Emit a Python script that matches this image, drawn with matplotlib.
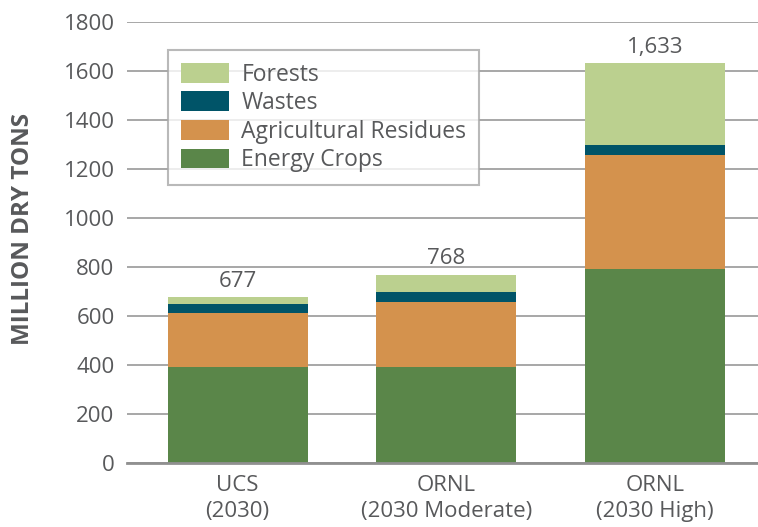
import numpy as np
import matplotlib.pyplot as plt

categories = ["UCS\n(2030)", "ORNL\n(2030 Moderate)", "ORNL\n(2030 High)"]
energy_crops = [390, 390, 793]
agri_residues = [220, 268, 465]
wastes = [37, 41, 41]
forests = [30, 69, 334]
totals = ["677", "768", "1,633"]

plt.rcParams['font.family'] = ['Open Sans', 'DejaVu Sans']
grey = "#58595b"

fig = plt.figure(figsize=(7.58, 5.27), dpi=100)
ax = fig.add_axes([127/758, (527-462.7)/527, 1-127/758, (462.7-22)/527])

x = np.arange(len(categories))
w = 0.671
b1 = ax.bar(x, energy_crops, w, color="#5a8649", label="Energy Crops", zorder=3)
bottom = np.array(energy_crops)
b2 = ax.bar(x, agri_residues, w, bottom=bottom, color="#d4924d", label="Agricultural Residues", zorder=3)
bottom = bottom + np.array(agri_residues)
b3 = ax.bar(x, wastes, w, bottom=bottom, color="#005468", label="Wastes", zorder=3)
bottom = bottom + np.array(wastes)
b4 = ax.bar(x, forests, w, bottom=bottom, color="#bbd08f", label="Forests", zorder=3)
bottom = bottom + np.array(forests)

for xi, top, t in zip(x, bottom, totals):
    ax.text(xi, top + 22, t, ha="center", va="bottom", fontsize=16, color=grey)

ax.set_ylim(0, 1800)
ax.set_xlim(-0.530, 2.4935)
ax.set_yticks(np.arange(0, 1801, 200))
ax.yaxis.grid(True, color="#a0a0a0", linewidth=1.3, zorder=0)
ax.set_axisbelow(True)
for s in ["top", "right", "left"]:
    ax.spines[s].set_visible(False)
ax.spines["bottom"].set_color("#909090")
ax.spines["bottom"].set_linewidth(2)
ax.spines["bottom"].set_zorder(4)
ax.tick_params(axis="y", length=0, pad=9, labelsize=16, labelcolor=grey)
ax.tick_params(axis="x", length=0, pad=9, labelsize=16, labelcolor=grey)
ax.set_xticks(x)
ax.set_xticklabels(categories, linespacing=1.3)

fig.text(23/758, 1-229/527, "MILLION DRY TONS", rotation=90, ha="center", va="center",
         fontsize=17.5, fontweight="bold", color=grey)

leg = ax.legend(handles=[b4, b3, b2, b1], loc="upper left",
                bbox_to_anchor=(168/758, 1-50/527), bbox_transform=fig.transFigure,
                fontsize=16.5, frameon=True, fancybox=False, handlelength=2.1,
                handleheight=0.95, labelspacing=0.2, handletextpad=0.55,
                borderpad=0.55, borderaxespad=0)
leg.get_frame().set_edgecolor("#a8a8a8")
leg.get_frame().set_linewidth(1.5)
leg.set_zorder(5)
for t in leg.get_texts():
    t.set_color(grey)

fig.savefig("out.png", dpi=100)
